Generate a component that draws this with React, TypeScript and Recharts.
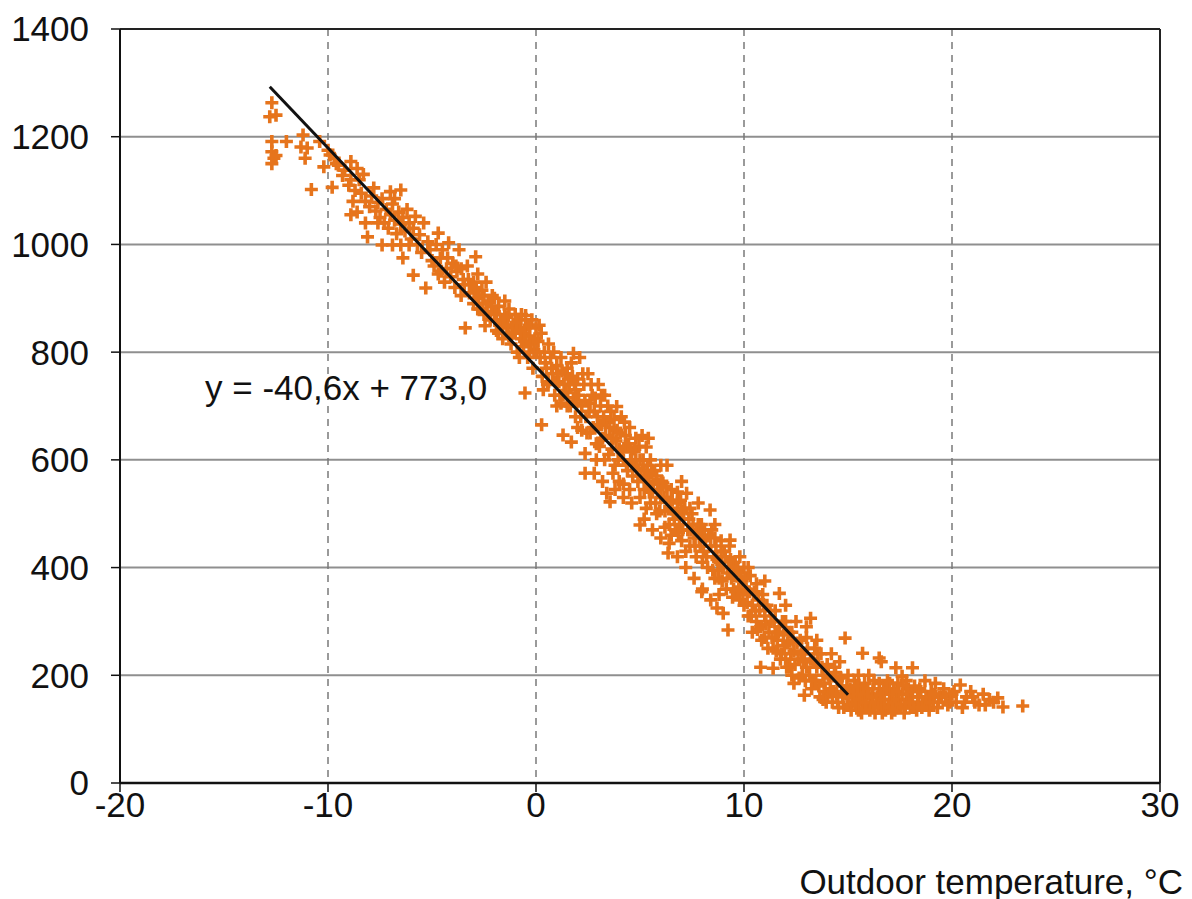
import React from "react";
import { ScatterChart, Scatter, XAxis, YAxis, CartesianGrid, ReferenceLine } from "recharts";

// Hourly heat load vs outdoor temperature.
// Each pair is [outdoor temperature °C, load].

const xTicks = [-20, -10, 0, 10, 20, 30];
const yTicks = [0, 200, 400, 600, 800, 1000, 1200, 1400];

const fitSlope = -40.6;
const fitIntercept = 773.0;
const fitFrom = -12.8;
const fitTo = 15.0;
const fitLabel = "y = -40,6x + 773,0";
const xTitle = "Outdoor temperature, °C";

const coldSpell: [number, number][] = [
  [-12.7, 1263], [-12.8, 1237], [-12.5, 1240], [-12.7, 1191], [-12.7, 1172], [-12.6, 1160], [-12.7, 1150], [-12.5, 1165],
  [-12.0, 1191], [-11.2, 1203], [-11.3, 1181], [-11.0, 1179], [-11.1, 1160], [-10.8, 1102], [-10.4, 1191], [-9.8, 1106],
  [-10.2, 1144], [-9.9, 1166], [-9.5, 1147], [-8.9, 1154], [-8.6, 1141], [-9.2, 1138], [-8.9, 1120], [-8.9, 1055],
  [-8.1, 1014], [-7.4, 999], [-6.9, 999], [-6.5, 999], [-6.1, 999], [-6.4, 975], [-5.9, 943], [-6.5, 1101],
  [-8.4, 1095], [-8.2, 1080], [-8.0, 1070], [-7.9, 1090], [-7.7, 1062], [-7.6, 1078], [-7.5, 1050], [-7.4, 1085],
  [-7.3, 1040], [-7.2, 1065], [-7.1, 1030], [-7.0, 1055], [-6.9, 1075], [-6.8, 1045], [-6.7, 1020], [-6.6, 1060],
  [-6.5, 1038], [-6.4, 1050], [-6.3, 1025], [-6.2, 1065], [-6.1, 1040], [-6.0, 1010], [-5.9, 1030], [-5.8, 1052],
  [-5.7, 1000], [-5.6, 1018], [-5.5, 985], [-5.4, 1040], [-5.3, 919], [-5.2, 1005], [-9.6, 1150], [-9.3, 1128],
  [-9.0, 1110], [-8.7, 1100], [-8.5, 1120], [-8.3, 1130], [-8.8, 1080], [-10.0, 1175], [-9.7, 1160], [-7.8, 1105],
  [-7.0, 1098], [-6.8, 1085], [-7.6, 1040], [-8.2, 1040], [-8.6, 1060],
];

const frost: [number, number][] = [
  [-4.9, 960], [-4.8, 1000], [-4.7, 945], [-4.6, 975], [-4.5, 990], [-4.4, 930], [-4.3, 955], [-4.2, 1003],
  [-4.1, 940], [-4.0, 965], [-3.9, 920], [-3.8, 950], [-3.7, 990], [-3.6, 905], [-3.5, 935], [-3.4, 845],
  [-3.3, 960], [-3.2, 910], [-3.1, 925], [-3.0, 890], [-2.9, 977], [-2.85, 900], [-2.8, 945], [-2.7, 880],
  [-2.6, 915], [-2.5, 870], [-2.45, 849], [-2.4, 930], [-2.3, 895], [-2.2, 860], [-2.1, 905], [-2.0, 875],
  [-1.9, 840], [-1.8, 885], [-1.7, 860], [-1.6, 825], [-1.5, 870], [-1.4, 845], [-1.3, 880], [-1.2, 815],
  [-1.1, 850], [-1.0, 835], [-0.9, 800], [-0.8, 860], [-0.7, 825], [-0.6, 810], [-0.5, 845], [-0.53, 724],
  [-0.4, 790], [-0.3, 830], [-0.2, 860], [-0.1, 805], [0.0, 845], [-0.15, 770], [-3.6, 955], [-3.0, 930],
  [-2.5, 905], [-2.0, 900], [-1.5, 895], [-1.0, 870], [-0.5, 868], [-2.8, 880], [-1.8, 835], [-0.8, 790],
  [-4.7, 1021], [-5.0, 970], [-5.1, 990], [-1.9, 860], [-1.6, 850], [-1.3, 830], [-0.9, 845], [-0.6, 835],
  [-0.3, 800], [-0.7, 870], [-1.4, 865], [-2.95, 920], [-2.75, 905], [-2.55, 890], [-2.35, 875], [-2.15, 885],
  [-1.95, 870], [-1.75, 850], [-1.55, 860], [-1.35, 850], [-1.15, 835], [-0.95, 855], [-0.75, 840], [-0.55, 820],
  [-0.35, 850], [-0.25, 815], [-0.05, 825], [-3.25, 935], [-3.45, 925], [-3.85, 960], [-4.25, 975], [-4.55, 950],
];

const thaw: [number, number][] = [
  [0.1, 820], [0.2, 790], [0.3, 755], [0.27, 665], [0.4, 800], [0.5, 770], [0.6, 745], [0.7, 790],
  [0.8, 760], [0.9, 720], [1.0, 775], [1.0, 700], [0.15, 850], [0.6, 815], [0.35, 730], [1.1, 745],
  [1.2, 790], [1.3, 646], [1.3, 720], [1.4, 760], [1.5, 700], [1.6, 740], [1.7, 633], [1.7, 780],
  [1.8, 798], [1.8, 715], [1.9, 680], [2.0, 750], [2.0, 660], [1.2, 705], [1.5, 770], [1.9, 730],
  [2.1, 790], [2.2, 700], [2.3, 740], [2.36, 612], [2.36, 575], [2.4, 680], [2.5, 760], [2.6, 650],
  [2.7, 720], [2.8, 690], [2.9, 630], [3.0, 740], [3.0, 665], [2.2, 655], [2.6, 705], [2.9, 600],
  [3.1, 700], [3.2, 640], [3.3, 720], [3.4, 538], [3.4, 670], [3.5, 610], [3.56, 522], [3.6, 690],
  [3.7, 640], [3.8, 590], [3.88, 699], [3.9, 655], [4.0, 620], [4.0, 560], [3.3, 600], [3.7, 575],
  [3.15, 665], [4.1, 680], [4.2, 600], [4.3, 645], [4.4, 580], [4.5, 660], [4.5, 545], [4.6, 615],
  [4.7, 590], [4.8, 640], [4.9, 560], [5.0, 479], [5.0, 600], [5.0, 530], [4.3, 625], [4.8, 600],
  [4.2, 555], [5.1, 645], [5.2, 580], [5.3, 624], [5.3, 510], [5.4, 560], [5.5, 600], [5.6, 540],
  [5.7, 580], [5.8, 500], [5.9, 555], [6.0, 530], [6.0, 590], [5.5, 520], [5.8, 570], [5.2, 545],
  [6.1, 557], [6.2, 505], [6.35, 427], [6.3, 530], [6.4, 480], [6.5, 545], [6.6, 500], [6.7, 470],
  [6.8, 520], [6.9, 480], [7.0, 505], [7.0, 450], [6.5, 460], [6.8, 540], [6.2, 475],
  [0.05, 800], [0.25, 835], [0.45, 780], [0.55, 740], [0.75, 770], [0.85, 800], [0.95, 745], [1.05, 760],
  [1.15, 720], [1.25, 765], [1.35, 740], [1.45, 725], [1.55, 750], [1.65, 700], [1.75, 755], [1.85, 740],
  [1.95, 705], [2.05, 720], [2.15, 680], [2.25, 760], [2.35, 710], [2.45, 650], [2.55, 690], [2.65, 740],
  [2.75, 660], [2.85, 715], [2.95, 680], [3.05, 625], [3.15, 720], [3.25, 680], [3.35, 645], [3.45, 700],
  [3.55, 660], [3.65, 620], [3.75, 675], [3.85, 635], [3.95, 600], [4.05, 650], [4.15, 615], [4.25, 670],
  [4.35, 590], [4.45, 630], [4.55, 600], [4.65, 570], [4.75, 620], [4.85, 585], [4.95, 625], [5.05, 570],
  [5.15, 600], [5.25, 560], [5.35, 590], [5.45, 540], [5.55, 575], [5.65, 555], [5.75, 520], [5.85, 545],
  [5.95, 505], [6.05, 560], [6.15, 530], [6.25, 550], [6.45, 510], [6.55, 525], [6.65, 490], [6.75, 500],
  [6.85, 465], [6.95, 525], [7.05, 470], [2.8, 575], [3.2, 560], [3.8, 545], [4.2, 530], [4.6, 520],
  [5.2, 490], [5.4, 640], [5.6, 470], [6.0, 455], [6.3, 590], [6.4, 445], [6.8, 420], [7.0, 560],
];

const spring: [number, number][] = [
  [7.1, 490], [7.24, 538], [7.3, 470], [7.4, 440], [7.5, 500], [7.6, 455], [7.7, 420], [7.8, 480],
  [7.9, 440], [7.97, 355], [8.0, 460], [8.0, 410], [7.4, 510], [7.7, 465], [7.2, 430], [8.1, 470],
  [8.2, 420], [8.37, 507], [8.4, 440], [8.5, 395], [8.6, 455], [8.7, 325], [8.7, 415], [8.8, 380],
  [8.9, 430], [9.0, 315], [9.0, 400], [8.3, 460], [8.6, 380], [8.9, 450], [9.1, 420], [9.23, 284],
  [9.33, 451], [9.4, 380], [9.5, 410], [9.6, 355], [9.7, 395], [9.8, 340], [9.9, 375], [10.0, 400],
  [10.0, 330], [9.5, 360], [9.2, 390], [9.8, 420], [10.1, 360], [10.2, 310], [10.3, 385], [10.4, 330],
  [10.5, 355], [10.6, 300], [10.7, 340], [10.8, 215], [10.8, 290], [10.9, 350], [11.0, 310], [11.0, 270],
  [10.4, 280], [10.6, 370], [11.1, 330], [11.2, 280], [11.3, 300], [11.4, 213], [11.4, 250], [11.5, 320],
  [11.6, 265], [11.7, 352], [11.7, 290], [11.8, 240], [11.9, 275], [12.0, 300], [12.0, 230], [11.5, 280],
  [12.1, 260], [12.2, 215], [12.3, 200], [12.3, 280], [12.4, 245], [12.5, 300], [12.6, 230], [12.7, 265],
  [12.8, 200], [12.9, 163], [12.9, 240], [13.0, 215], [13.0, 270], [12.4, 185], [13.2, 306], [13.2, 230],
  [13.3, 190], [13.4, 250], [13.5, 215], [13.6, 180], [13.7, 240], [13.8, 200], [13.9, 170], [14.0, 220],
  [14.0, 160], [13.5, 265], [13.8, 155], [14.1, 195], [14.2, 240], [14.3, 170], [14.4, 205], [14.5, 150],
  [14.6, 225], [14.7, 180], [14.86, 269], [14.9, 165], [15.0, 200], [15.0, 145], [14.5, 190], [14.8, 140],
  [7.15, 510], [7.35, 490], [7.45, 470], [7.55, 480], [7.65, 440], [7.85, 455], [7.95, 480], [8.05, 430],
  [8.15, 450], [8.25, 400], [8.45, 470], [8.55, 420], [8.65, 440], [8.75, 395], [8.85, 410], [8.95, 375],
  [9.05, 430], [9.15, 360], [9.25, 400], [9.35, 415], [9.45, 345], [9.55, 385], [9.65, 400], [9.75, 360],
  [9.85, 390], [9.95, 350], [10.05, 380], [10.15, 335], [10.25, 355], [10.35, 310], [10.45, 350], [10.55, 320],
  [10.65, 285], [10.75, 320], [10.85, 265], [10.95, 330], [11.05, 295], [11.15, 250], [11.25, 320], [11.35, 270],
  [11.45, 300], [11.55, 245], [11.65, 280], [11.75, 230], [11.85, 300], [11.95, 255], [12.05, 215], [12.15, 280],
  [12.25, 240], [12.35, 265], [12.45, 220], [12.55, 260], [12.65, 195], [12.75, 240], [12.85, 225], [12.95, 190],
  [13.05, 250], [13.15, 200], [13.25, 175], [13.35, 225], [13.45, 190], [13.55, 240], [13.65, 160], [13.75, 215],
  [13.85, 185], [13.95, 150], [14.05, 200], [14.15, 175], [14.25, 150], [14.35, 215], [14.45, 165], [14.55, 140],
  [14.65, 195], [14.75, 160], [14.95, 180], [7.2, 400], [7.6, 380], [7.8, 520], [8.0, 360], [8.4, 340],
  [8.6, 480], [8.8, 350], [9.3, 440], [10.2, 400], [11.0, 375], [12.0, 330], [13.0, 290],
];

const summer: [number, number][] = [
  [15.1, 175], [15.2, 150], [15.3, 190], [15.4, 160], [15.5, 135], [15.6, 170], [15.7, 241], [15.7, 150],
  [15.8, 185], [15.9, 140], [16.0, 165], [16.0, 200], [16.1, 145], [16.2, 175], [16.3, 130], [16.4, 160],
  [16.5, 232], [16.5, 185], [16.6, 225], [16.6, 145], [16.7, 170], [16.8, 135], [16.9, 190], [17.0, 155],
  [17.1, 130], [17.2, 175], [17.3, 214], [17.3, 150], [17.4, 185], [17.5, 140], [17.6, 198], [17.6, 165],
  [17.7, 130], [17.8, 155], [17.9, 175], [18.0, 140], [18.1, 214], [18.1, 160], [18.2, 180], [18.3, 135],
  [18.4, 150], [18.5, 170], [18.6, 145], [18.7, 190], [18.8, 155], [18.9, 135], [19.0, 170], [19.1, 150],
  [19.2, 185], [19.3, 140], [19.5, 160], [19.6, 175], [19.8, 145], [20.0, 165], [20.2, 150], [20.4, 182],
  [20.5, 140], [20.7, 160], [20.9, 170], [21.1, 150], [21.3, 145], [21.5, 165], [21.8, 155], [22.0, 150],
  [22.2, 158], [22.45, 141], [23.4, 143], [16.2, 150], [17.0, 185], [17.8, 190], [15.5, 200], [19.4, 160],
  [15.05, 160], [15.15, 135], [15.25, 170], [15.35, 145], [15.45, 180], [15.55, 155], [15.65, 130], [15.75, 165],
  [15.85, 150], [15.95, 175], [16.05, 135], [16.15, 160], [16.25, 190], [16.35, 150], [16.45, 140], [16.55, 165],
  [16.65, 130], [16.75, 155], [16.85, 175], [16.95, 140], [17.05, 165], [17.15, 150], [17.25, 135], [17.35, 170],
  [17.45, 155], [17.55, 145], [17.65, 180], [17.75, 140], [17.85, 165], [17.95, 150], [18.05, 170], [18.15, 140],
  [18.35, 160], [18.45, 175], [18.55, 140], [18.75, 160], [18.95, 150], [19.15, 165], [19.35, 150], [19.7, 160],
  [19.9, 150], [20.1, 170], [20.6, 150], [21.0, 160], [21.6, 145],
];

const points = [...coldSpell, ...frost, ...thaw, ...spring, ...summer].map(([t, q]) => ({ t, q }));
const fitEnds = [fitFrom, fitTo].map((t) => ({ t, q: fitIntercept + fitSlope * t }));

const FONT = '"Liberation Sans", Arial, Helvetica, sans-serif';
const ORANGE = "#E6741C";

function Plus(props: any) {
  const { cx, cy } = props;
  if (cx == null || cy == null) return null;
  const h = 6.5;
  return (
    <path
      d={`M${cx - h},${cy}H${cx + h}M${cx},${cy - h}V${cy + h}`}
      stroke={ORANGE}
      strokeWidth={3.6}
      fill="none"
    />
  );
}

export default function App() {
  const tick = { fill: "#111", fontSize: 35, fontFamily: FONT };
  return (
    <div style={{ position: "relative", width: 1192, height: 899, background: "#fff" }}>
      <style>{"body{margin:0}"}</style>
      <ScatterChart width={1192} height={899} margin={{ top: 29, right: 32, bottom: 0, left: 0 }}>
        <CartesianGrid horizontal vertical={false} stroke="#8f8f8f" strokeWidth={2} />
        <CartesianGrid horizontal={false} vertical stroke="#7a7a7a" strokeWidth={1.5} strokeDasharray="7 6" />
        <XAxis
          type="number"
          dataKey="t"
          domain={[-20, 30]}
          ticks={xTicks}
          allowDataOverflow
          height={116}
          tick={tick}
          tickSize={9}
          tickMargin={0}
          axisLine={{ stroke: "#111", strokeWidth: 2.5 }}
          tickLine={{ stroke: "#111", strokeWidth: 1.5 }}
        />
        <YAxis
          type="number"
          dataKey="q"
          domain={[0, 1400]}
          ticks={yTicks}
          allowDataOverflow
          width={120}
          tick={tick}
          tickSize={9}
          tickMargin={22}
          axisLine={{ stroke: "#111", strokeWidth: 2 }}
          tickLine={{ stroke: "#111", strokeWidth: 1.5 }}
        />
        <ReferenceLine y={1400} stroke="#222" strokeWidth={2} />
        <ReferenceLine x={30} stroke="#222" strokeWidth={2} />
        <Scatter data={points} shape={<Plus />} isAnimationActive={false} />
        <Scatter
          data={fitEnds}
          line={{ stroke: "#111", strokeWidth: 3 }}
          shape={() => <g />}
          isAnimationActive={false}
        />
      </ScatterChart>
      <div
        style={{
          position: "absolute",
          left: 205,
          top: 370,
          fontFamily: FONT,
          fontSize: 35,
          lineHeight: "35px",
          color: "#111",
          whiteSpace: "nowrap",
        }}
      >
        {fitLabel}
      </div>
      <div
        style={{
          position: "absolute",
          right: 9,
          top: 864,
          fontFamily: FONT,
          fontSize: 35,
          lineHeight: "35px",
          color: "#111",
          whiteSpace: "nowrap",
        }}
      >
        {xTitle}
      </div>
    </div>
  );
}
